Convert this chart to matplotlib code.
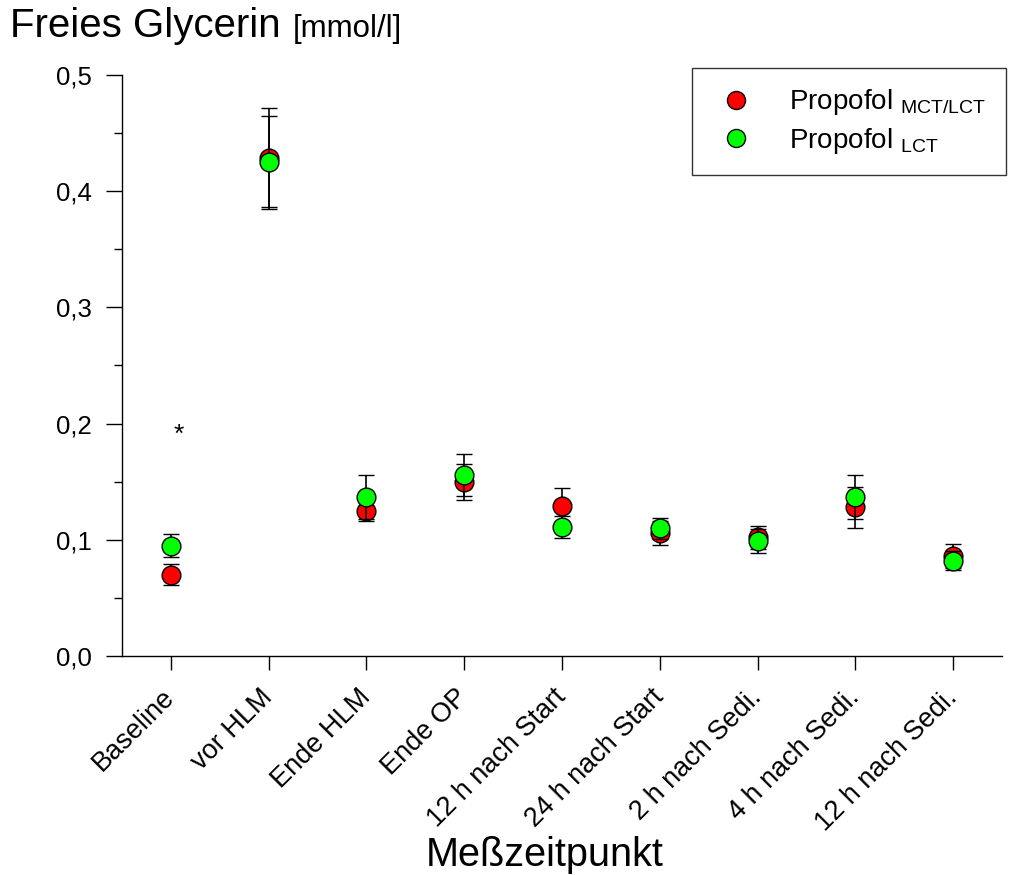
import matplotlib
matplotlib.use("Agg")
import matplotlib.pyplot as plt
from matplotlib.lines import Line2D
import numpy as np

plt.rcParams['font.family'] = ['Liberation Sans', 'DejaVu Sans']
plt.rcParams['mathtext.fontset'] = 'custom'
plt.rcParams['mathtext.rm'] = 'Liberation Sans'
plt.rcParams['mathtext.it'] = 'Liberation Sans:italic'

categories = ["Baseline", "vor HLM", "Ende HLM", "Ende OP", "12 h nach Start",
              "24 h nach Start", "2 h nach Sedi.", "4 h nach Sedi.", "12 h nach Sedi."]
mct_mean = [0.070, 0.429, 0.125, 0.150, 0.129, 0.106, 0.102, 0.128, 0.086]
mct_err = [0.009, 0.043, 0.009, 0.0155, 0.016, 0.0105, 0.010, 0.0175, 0.010]
lct_mean = [0.095, 0.425, 0.137, 0.156, 0.111, 0.110, 0.099, 0.137, 0.082]
lct_err = [0.010, 0.040, 0.019, 0.018, 0.0097, 0.009, 0.010, 0.019, 0.008]
yticks = [0.0, 0.1, 0.2, 0.3, 0.4, 0.5]
ytick_labels = ["0,0", "0,1", "0,2", "0,3", "0,4", "0,5"]
series_labels = [r'Propofol $_{\mathrm{MCT/LCT}}$', r'Propofol $_{\mathrm{LCT}}$']
series_colors = ['#ff0000', '#00ff00']

fig = plt.figure(figsize=(10.1, 8.75), dpi=100)
ax = fig.add_axes([122/1010, 1-656/875, (1002-122)/1010, (656-75)/875])

x = np.arange(len(categories))
for i, (m, e) in enumerate([(mct_mean, mct_err), (lct_mean, lct_err)]):
    ax.errorbar(x, m, yerr=e, fmt='o', color='black', ecolor='black',
                markerfacecolor=series_colors[i], markeredgecolor='black', markeredgewidth=1.0,
                markersize=13.5, capsize=6, capthick=1.2, elinewidth=1.2, zorder=2 + i)

ax.text(0.08, 0.19, '*', fontsize=19, ha='center', va='center')

ax.set_xlim(-0.5, 8.5)
ax.set_ylim(0, 0.5)
ax.set_yticks(yticks)
ax.set_yticklabels(ytick_labels, fontsize=18.5)
ax.set_yticks(np.arange(0.05, 0.5, 0.1), minor=True)
ax.set_xticks(x)
ax.set_xticklabels(categories, fontsize=19.5, rotation=45, ha='right', va='center',
                   rotation_mode='anchor')
ax.tick_params(axis='y', which='major', direction='out', length=11.5, width=1, pad=10)
ax.tick_params(axis='y', which='minor', direction='out', length=6, width=1)
ax.tick_params(axis='x', which='major', direction='out', length=10, width=1, pad=17)
for s in ['top', 'right']:
    ax.spines[s].set_visible(False)
for s in ['left', 'bottom']:
    ax.spines[s].set_linewidth(1)

ax.set_xlabel('Meßzeitpunkt', fontsize=28.5, va='baseline')
ax.xaxis.set_label_coords((545 - 122) / (1002 - 122), -(866 - 656) / (656 - 75))

t1 = fig.text(10/1010, 1-37/875, 'Freies Glycerin', fontsize=29, ha='left', va='baseline')
fig.canvas.draw()
bb = t1.get_window_extent(renderer=fig.canvas.get_renderer())
fig.text((bb.x1 + 12)/1010, 1-37/875, '[mmol/l]', fontsize=22.5, ha='left', va='baseline')

handles = [Line2D([], [], linestyle='none', marker='o', markersize=13,
                  markerfacecolor=c, markeredgecolor='black', markeredgewidth=1.0)
           for c in series_colors]
leg = fig.legend(handles, series_labels, loc='upper left',
                 bbox_to_anchor=(692/1010, 1-68/875), fontsize=20,
                 frameon=True, fancybox=False, edgecolor='black', borderaxespad=0,
                 handletextpad=1.0, labelspacing=0.3, borderpad=0.7, handlelength=1.8)
leg.get_frame().set_linewidth(1)

fig.savefig('out.png', dpi=100)
